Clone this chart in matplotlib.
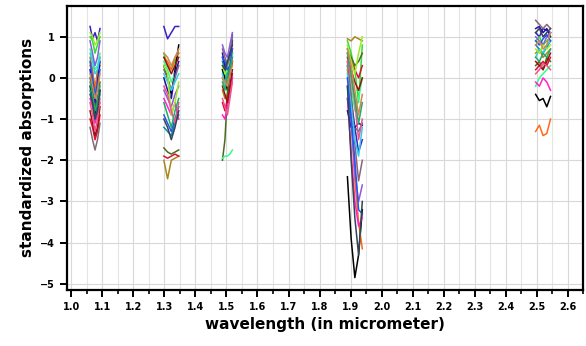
import numpy as np
import matplotlib
matplotlib.use("Agg")
import matplotlib.pyplot as plt
from matplotlib.ticker import MultipleLocator

# wavelength grid of each absorption window (micrometer)
wl1 = [1.060, 1.068, 1.076, 1.084, 1.092]
wl2 = [1.298, 1.310, 1.322, 1.334, 1.346]
wl3 = [1.487, 1.495, 1.503, 1.511, 1.519]
wl4 = [1.890, 1.902, 1.914, 1.926, 1.938]
wl5 = [2.497, 2.509, 2.521, 2.533, 2.545]

colors = ["#3a1fc1", "#33dd33", "#a8861a", "black", "#ff6a1a", "#4a6a20", "#33ff88",
          "#dd1133", "#ff22cc", "#118899", "#2211aa", "#886677", "#33ccee", "#8a5ae0",
          "#991111", "#99ee22", "#2255ee", "#ee5588", "#22aa66", "#cc8855", "#334455"]

# standardized absorption per sample, one row per sample
w1 = [[1.25, 0.95, 1.1, 0.9, 1.2], [1.0, 0.9, 0.6, 0.8, 1.0], [0.5, 0.2, -0.3, 0.2, 0.5],
      [-0.2, -0.5, -0.9, -0.6, -0.3], [0.3, 0.1, -0.2, 0.0, 0.3], [0.0, -0.3, -0.7, -0.5, -0.1],
      [0.7, 0.5, 0.2, 0.3, 0.6], [-1.0, -1.2, -1.5, -1.3, -0.9], [-0.5, -0.7, -1.1, -0.9, -0.6],
      [-0.3, -0.6, -1.0, -0.7, -0.4], [0.2, -0.2, -0.6, -0.1, 0.4], [-1.2, -1.5, -1.75, -1.5, -1.1],
      [0.6, 0.4, 0.1, 0.2, 0.5], [0.9, 0.6, 0.3, 0.5, 0.9], [-0.8, -1.1, -1.4, -1.2, -0.7],
      [1.1, 1.0, 0.8, 0.9, 1.1], [0.4, 0.0, -0.4, -0.2, 0.2], [-0.6, -0.9, -1.3, -1.0, -0.5],
      [-0.1, -0.4, -0.8, -0.6, -0.2], [0.1, -0.2, -0.5, -0.3, 0.1], [-0.4, -0.6, -1.0, -0.8, -0.3]]
w2 = [[1.25, 0.95, 1.1, 1.25, 1.25], [0.6, 0.3, 0.2, 0.4, 0.6], [-2.0, -2.45, -2.0, -1.95, -1.9],
      [0.3, 0.0, -0.4, 0.2, 0.8], [0.5, 0.4, 0.2, 0.5, 0.6], [-1.7, -1.8, -1.85, -1.8, -1.75],
      [0.4, 0.2, -0.1, 0.1, 0.3], [-1.9, -1.95, -1.9, -1.85, -1.9], [-0.5, -0.7, -0.9, -0.6, -1.0],
      [-1.2, -1.3, -1.4, -1.1, -0.9], [0.0, -0.3, -0.5, 0.1, 0.4], [0.2, 0.0, -0.3, 0.0, 0.3],
      [0.1, -0.1, -0.3, -0.1, 0.1], [-0.3, -0.5, -0.7, -0.4, -0.2], [0.5, 0.3, 0.1, 0.3, 0.5],
      [0.3, 0.1, -0.9, -0.6, -0.1], [-0.9, -1.1, -1.3, -1.0, -0.7], [-0.2, -0.4, -0.8, -1.1, -0.6],
      [-0.6, -0.9, -1.2, -0.8, -0.5], [0.6, 0.5, 0.3, 0.5, 0.7], [-1.0, -1.2, -1.5, -1.2, -0.8]]
w3 = [[0.5, 0.3, 0.1, 0.4, 0.7], [0.2, -0.1, 0.3, 0.5, 0.6], [-0.3, -0.5, -0.4, -0.2, 0.0],
      [0.2, 0.0, -0.3, 0.1, 0.4], [0.0, -0.2, -0.1, 0.2, 0.4], [-2.0, -1.5, -0.4, 0.2, 1.05],
      [-1.95, -1.9, -1.9, -1.85, -1.75], [-0.6, -0.8, -0.5, -0.3, 0.1], [-0.9, -1.0, -0.7, -0.4, 0.0],
      [0.4, 0.2, 0.0, 0.3, 0.5], [0.6, 0.3, 0.1, 0.5, 0.9], [0.7, 0.5, 0.3, 0.6, 1.0],
      [0.1, -0.2, 0.2, 0.3, 0.6], [0.8, 0.6, 0.5, 0.8, 1.1], [-0.2, -0.4, -0.6, -0.2, 0.2],
      [0.3, 0.1, 0.2, 0.4, 0.6], [0.5, 0.4, 0.2, 0.3, 0.7], [-0.5, -0.7, -0.9, -0.5, -0.1],
      [-0.1, -0.3, 0.1, 0.2, 0.5], [0.0, -0.1, -0.2, 0.1, 0.3], [0.3, 0.2, 0.4, 0.6, 0.8]]
w4 = [[0.3, -0.5, -1.2, -1.8, -1.5], [0.9, 0.6, 0.2, -0.6, 0.8], [0.95, 0.9, 1.0, 0.95, 0.9],
      [-2.4, -3.9, -4.85, -4.3, -3.2], [0.2, -1.0, -2.5, -3.5, -4.15], [0.7, 0.5, 0.3, 0.4, 0.6],
      [0.3, -0.2, -0.8, -0.5, 0.0], [0.6, 0.4, 0.2, 0.0, 0.3], [-0.5, -1.8, -3.0, -3.6, -3.4],
      [-0.5, -1.0, -1.2, -1.3, -1.1], [-0.8, -1.2, -1.2, -1.1, -1.15], [0.4, -0.4, -1.6, -2.5, -2.0],
      [0.1, -0.7, -1.5, -1.9, -1.2], [-0.2, -1.0, -2.3, -3.0, -2.6], [0.5, 0.2, -0.1, -0.3, 0.0],
      [0.8, 0.4, 0.1, 0.6, 1.0], [0.0, -1.0, -2.0, -3.2, -3.3], [0.4, 0.0, -0.6, -1.5, -1.0],
      [0.6, 0.1, -0.5, -1.1, -0.6], [0.7, 0.3, -0.3, -0.9, -0.4], [-0.2, -2.0, -3.4, -4.3, -3.0]]
w5 = [[1.1, 1.0, 1.2, 1.15, 1.1], [0.9, 1.0, 0.8, 0.9, 1.0], [0.6, 0.7, 0.5, 0.6, 0.7],
      [-0.4, -0.55, -0.5, -0.7, -0.45], [-1.3, -1.15, -1.4, -1.35, -1.0], [0.3, 0.4, 0.2, 0.5, 0.4],
      [-0.2, 0.0, 0.1, 0.2, 0.3], [0.2, 0.3, 0.4, 0.3, 0.5], [-0.1, -0.2, 0.0, -0.1, -0.3],
      [0.8, 0.7, 0.6, 0.75, 0.9], [1.2, 1.25, 1.1, 1.2, 1.0], [1.4, 1.3, 1.2, 1.3, 1.2],
      [0.5, 0.7, 0.6, 0.8, 0.9], [1.0, 0.9, 0.8, 1.0, 1.1], [0.4, 0.3, 0.2, 0.4, 0.6],
      [0.7, 0.6, 0.8, 0.7, 0.8], [0.9, 0.8, 0.95, 1.05, 0.9], [0.1, 0.2, 0.35, 0.3, 0.2],
      [0.5, 0.4, 0.6, 0.5, 0.7], [0.8, 0.9, 0.7, 0.8, 1.1], [1.1, 1.2, 1.0, 1.1, 1.2]]

fig = plt.figure(figsize=(5.86, 3.46), dpi=100)
ax = fig.add_axes([0.114, 0.162, 0.881, 0.821])

for wl, vals in [(wl1, w1), (wl2, w2), (wl3, w3), (wl4, w4), (wl5, w5)]:
    for i, v in enumerate(vals):
        ax.plot(wl, v, color=colors[i], linewidth=1.1)

ax.set_xlim(0.985, 2.65)
ax.set_ylim(-5.15, 1.75)
ax.xaxis.set_major_locator(MultipleLocator(0.1))
ax.xaxis.set_minor_locator(MultipleLocator(0.05))
ax.yaxis.set_major_locator(MultipleLocator(1))
ax.xaxis.set_major_formatter(matplotlib.ticker.FormatStrFormatter("%.1f"))

ax.grid(True, which="major", color="#d8d8d8", linewidth=0.8)
ax.grid(True, which="minor", axis="x", color="#e4e4e4", linewidth=0.8)
ax.set_axisbelow(True)

for s in ax.spines.values():
    s.set_linewidth(1.6)
ax.tick_params(which="major", length=5, width=1.4, labelsize=7)
ax.tick_params(which="minor", length=3, width=1.2)
for lab in ax.get_xticklabels() + ax.get_yticklabels():
    lab.set_fontweight("bold")

ax.set_xlabel("wavelength (in micrometer)", fontsize=11, fontweight="bold")
ax.set_ylabel("standardized absorptions", fontsize=11, fontweight="bold")

fig.savefig("out.png", dpi=100)
